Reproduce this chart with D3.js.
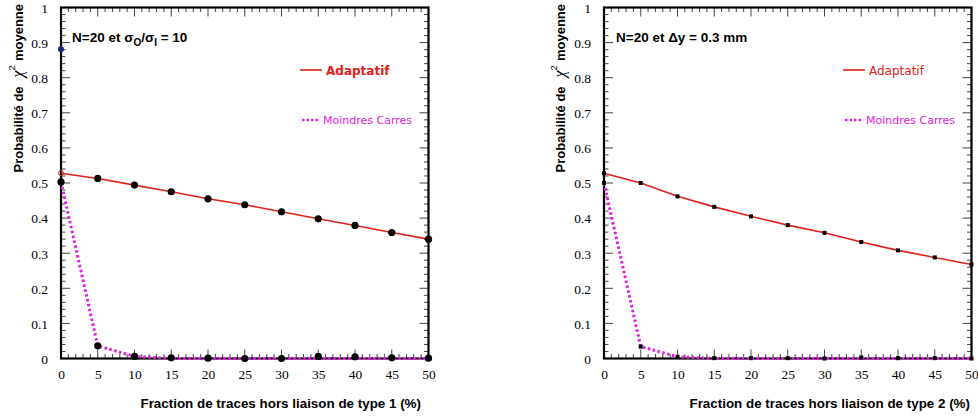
<!DOCTYPE html>
<html><head><meta charset="utf-8">
<script src="https://cdn.jsdelivr.net/npm/d3@7"></script>
<style>
html,body{margin:0;padding:0;background:#fff;}
svg{display:block;}
</style>
</head><body>
<svg id="chart" width="978" height="418"></svg>
<script>
// ---- data ----
const xValues = [0, 5, 10, 15, 20, 25, 30, 35, 40, 45, 50];
const xTicks = [0, 5, 10, 15, 20, 25, 30, 35, 40, 45, 50];
const yTicks = [0, 0.1, 0.2, 0.3, 0.4, 0.5, 0.6, 0.7, 0.8, 0.9, 1];
const yTickLabels = ["0", "0.1", "0.2", "0.3", "0.4", "0.5", "0.6", "0.7", "0.8", "0.9", "1"];

const adaptatifType1 = [0.528, 0.513, 0.494, 0.475, 0.455, 0.438, 0.418, 0.398, 0.379, 0.359, 0.340];
const moindresType1  = [0.503, 0.036, 0.006, 0.002, 0.001, 0.0, 0.0, 0.006, 0.005, 0.002, 0.001];
const moindresLine1  = [0.503, 0.036, 0.006, 0.0, 0.0, 0.0, 0.0, 0.0, 0.0, 0.0, 0.0];
const strayType1 = [{x: 0, y: 0.881}];

const adaptatifType2 = [0.528, 0.500, 0.462, 0.432, 0.405, 0.380, 0.358, 0.332, 0.308, 0.288, 0.268];
const moindresType2  = [0.500, 0.034, 0.005, 0.001, 0.001, 0.001, 0.0, 0.003, 0.001, 0.001, 0.0];
const moindresLine2  = [0.500, 0.034, 0.005, 0.0, 0.0, 0.0, 0.0, 0.0, 0.0, 0.0, 0.0];

const seriesNames = ["Adaptatif", "Moindres Carres"];
const xTitles = ["Fraction de traces hors liaison de type 1 (%)", "Fraction de traces hors liaison de type 2 (%)"];

const svg = d3.select("#chart");

function drawPanel(cfg) {
  const g = svg.append("g");
  const x = d3.scaleLinear().domain([0, 50]).range([cfg.left, cfg.right]);
  const y = d3.scaleLinear().domain([0, 1]).range([358.5, 7.5]);

  const xMinor = d3.range(0, 51, 1);
  const yMinor = d3.range(0, 51, 1).map(d => d * 0.02);

  const tickColor = "#444";
  g.append("g").selectAll("line").data(xMinor).join("line")
    .attr("x1", d => x(d)).attr("x2", d => x(d))
    .attr("y1", y(0)).attr("y2", d => y(0) - (d % 5 === 0 ? 9 : 4.5))
    .attr("stroke", tickColor).attr("stroke-width", 1);
  g.append("g").selectAll("line").data(xMinor).join("line")
    .attr("x1", d => x(d)).attr("x2", d => x(d))
    .attr("y1", y(1)).attr("y2", d => y(1) + (d % 5 === 0 ? 9 : 4.5))
    .attr("stroke", tickColor).attr("stroke-width", 1);
  g.append("g").selectAll("line").data(yMinor).join("line")
    .attr("y1", d => y(d)).attr("y2", d => y(d))
    .attr("x1", x(0)).attr("x2", (d, i) => x(0) + (i % 5 === 0 ? 9 : 4.5))
    .attr("stroke", tickColor).attr("stroke-width", 1);
  g.append("g").selectAll("line").data(yMinor).join("line")
    .attr("y1", d => y(d)).attr("y2", d => y(d))
    .attr("x1", x(50)).attr("x2", (d, i) => x(50) - (i % 5 === 0 ? 9 : 4.5))
    .attr("stroke", tickColor).attr("stroke-width", 1);

  g.append("rect")
    .attr("x", x(0)).attr("y", y(1))
    .attr("width", x(50) - x(0)).attr("height", y(0) - y(1))
    .attr("fill", "none").attr("stroke", "#000").attr("stroke-width", 2.2);

  const xAxis = d3.axisBottom(x).tickValues(xTicks).tickSize(0).tickPadding(0).tickFormat(d3.format("d"));
  const xa = g.append("g").attr("transform", `translate(0,${y(0)})`).call(xAxis);
  xa.select(".domain").remove();
  xa.selectAll("text").attr("dy", null).attr("y", 20)
    .style("font-family", "'Liberation Serif','Times New Roman',serif").style("font-size", "13.5px").attr("fill", "#000");

  const yAxis = d3.axisLeft(y).tickValues(yTicks).tickSize(0).tickPadding(0)
    .tickFormat((d, i) => yTickLabels[i]);
  const ya = g.append("g").attr("transform", `translate(${x(0) - 13},0)`).call(yAxis);
  ya.select(".domain").remove();
  ya.selectAll("text").attr("dy", "0.36em")
    .style("font-family", "'Liberation Serif','Times New Roman',serif").style("font-size", "13.5px").attr("fill", "#000");

  g.append("text")
    .attr("x", cfg.xTitleX).attr("y", 408)
    .attr("text-anchor", "end")
    .style("font-family", "'Liberation Sans',Arial,sans-serif").style("font-weight", "bold").style("font-size", "13.4px")
    .text(cfg.xTitle);

  const yt = g.append("text")
    .attr("transform", `translate(${cfg.yTitleX},4) rotate(-90)`)
    .attr("text-anchor", "end")
    .style("font-family", "'Liberation Sans',Arial,sans-serif").style("font-weight", "bold").style("font-size", "13px");
  yt.append("tspan").text("Probabilité de");
  yt.append("tspan").attr("dx", 9).style("font-family", "'Liberation Serif',serif").style("font-weight", "normal").style("font-style", "italic").style("font-size", "16px").text("χ");
  yt.append("tspan").attr("dy", -8).style("font-size", "9.5px").style("font-weight", "normal").text("2");
  yt.append("tspan").attr("dy", 8).attr("dx", 4).text("moyenne");

  const an = g.append("text").attr("x", cfg.annX).attr("y", 42)
    .style("font-family", "'Liberation Sans',Arial,sans-serif").style("font-weight", "bold").style("font-size", "13.5px");
  cfg.annotation(an);

  const line = d3.line().x(d => x(d.x)).y(d => y(d.y));
  const adData = xValues.map((v, i) => ({x: v, y: cfg.adaptatif[i]}));
  const mcData = xValues.map((v, i) => ({x: v, y: cfg.moindres[i]}));
  const mcLine = xValues.map((v, i) => ({x: v, y: cfg.moindresLine[i]}));

  g.append("path").datum(adData).attr("d", line)
    .attr("fill", "none").attr("stroke", "#e0201a").attr("stroke-width", 1.6);
  g.append("path").datum(mcLine).attr("d", line)
    .attr("fill", "none").attr("stroke", "#e020e0").attr("stroke-width", 3)
    .attr("stroke-dasharray", "2.5,2.5");

  const allPts = adData.slice(cfg.largeMarkers ? 1 : 0).concat(mcData);
  if (cfg.largeMarkers) {
    g.append("g").selectAll("circle").data(allPts).join("circle")
      .attr("cx", d => x(d.x)).attr("cy", d => y(d.y)).attr("r", 3.6).attr("fill", "#000");
    g.append("circle").attr("cx", x(adData[0].x)).attr("cy", y(adData[0].y)).attr("r", 2.5)
      .attr("fill", "none").attr("stroke", "#c03030").attr("stroke-width", 1);
    g.append("g").selectAll("circle.s").data(cfg.stray).join("circle")
      .attr("cx", d => x(d.x)).attr("cy", d => y(d.y)).attr("r", 3).attr("fill", "#1a2a80");
  } else {
    g.append("g").selectAll("rect").data(allPts).join("rect")
      .attr("x", d => x(d.x) - 2).attr("y", d => y(d.y) - 2).attr("width", 4).attr("height", 4).attr("fill", "#000");
  }

  g.append("line").attr("x1", cfg.legX).attr("x2", cfg.legX + 22).attr("y1", 70).attr("y2", 70)
    .attr("stroke", "#e0201a").attr("stroke-width", 1.6);
  g.append("text").attr("x", cfg.legX + 26).attr("y", 74.5).attr("fill", "#e0201a")
    .style("font-family", "'DejaVu Sans',Verdana,sans-serif").style("font-size", "12px")
    .style("font-weight", cfg.boldLegend ? "bold" : "normal").text(seriesNames[0]);
  g.append("line").attr("x1", cfg.legX + 2).attr("x2", cfg.legX + 20).attr("y1", 120).attr("y2", 120)
    .attr("stroke", "#e020e0").attr("stroke-width", 2.5).attr("stroke-dasharray", "2.5,2");
  g.append("text").attr("x", cfg.legX + 23).attr("y", 124).attr("fill", "#e020e0")
    .style("font-family", "'DejaVu Sans',Verdana,sans-serif").style("font-size", "11px")
    .text(seriesNames[1]);
}

drawPanel({
  left: 61, right: 428.5,
  adaptatif: adaptatifType1, moindres: moindresType1, moindresLine: moindresLine1, stray: strayType1,
  largeMarkers: true, boldLegend: true,
  xTitle: xTitles[0], xTitleX: 421, yTitleX: 23,
  annX: 72, legX: 300,
  annotation: t => {
    t.append("tspan").text("N=20 et σ");
    t.append("tspan").attr("dy", 4).style("font-size", "10px").text("O");
    t.append("tspan").attr("dy", -4).text("/σ");
    t.append("tspan").attr("dy", 4).style("font-size", "10px").text("I");
    t.append("tspan").attr("dy", -4).text(" = 10");
  }
});

drawPanel({
  left: 604, right: 971.5,
  adaptatif: adaptatifType2, moindres: moindresType2, moindresLine: moindresLine2, stray: [],
  largeMarkers: false, boldLegend: false,
  xTitle: xTitles[1], xTitleX: 970, yTitleX: 565,
  annX: 616, legX: 843,
  annotation: t => { t.text("N=20 et Δy = 0.3 mm"); }
});
</script>
</body></html>
